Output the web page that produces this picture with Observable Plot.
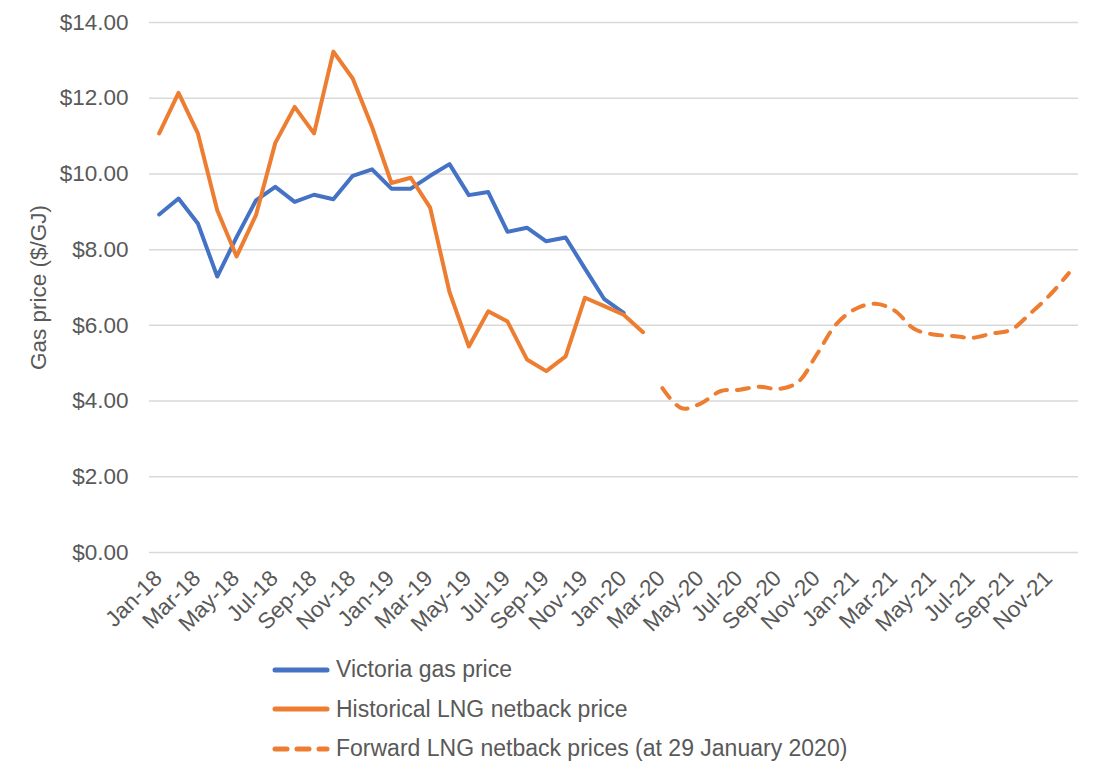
<!DOCTYPE html>
<html>
<head>
<meta charset="utf-8">
<script src="https://cdn.jsdelivr.net/npm/d3@7"></script>
<script src="https://cdn.jsdelivr.net/npm/@observablehq/plot@0.6"></script>
<style>
  body { margin: 0; background: #fff; font-family: "Liberation Sans", Arial, sans-serif; }
  #wrap { position: relative; width: 1107px; height: 775px; overflow: hidden; }
  #legend { position: absolute; left: 271px; top: 650px; color: #595959; font-size: 23px; }
  #legend .row { display: flex; align-items: center; height: 39.5px; }
  #legend svg { margin-right: 5px; }
</style>
</head>
<body>
<div id="wrap">
  <div id="chart"></div>
  <div id="legend"></div>
</div>
<script>
// Monthly category labels, Jan-18 to Dec-21
const months = [
  "Jan-18","Feb-18","Mar-18","Apr-18","May-18","Jun-18","Jul-18","Aug-18","Sep-18","Oct-18","Nov-18","Dec-18",
  "Jan-19","Feb-19","Mar-19","Apr-19","May-19","Jun-19","Jul-19","Aug-19","Sep-19","Oct-19","Nov-19","Dec-19",
  "Jan-20","Feb-20","Mar-20","Apr-20","May-20","Jun-20","Jul-20","Aug-20","Sep-20","Oct-20","Nov-20","Dec-20",
  "Jan-21","Feb-21","Mar-21","Apr-21","May-21","Jun-21","Jul-21","Aug-21","Sep-21","Oct-21","Nov-21","Dec-21"
];

// Victoria gas price, $/GJ, Jan-18 .. Jan-20
const victoriaPrice = [
  8.93, 9.35, 8.69, 7.29, 8.33, 9.30, 9.66, 9.26, 9.45, 9.33, 9.95, 10.12,
  9.61, 9.61, 9.95, 10.26, 9.44, 9.52, 8.47, 8.58, 8.22, 8.32, 7.50, 6.69,
  6.33
];

// Historical LNG netback price, $/GJ, Jan-18 .. Feb-20
const lngHistorical = [
  11.07, 12.14, 11.07, 9.04, 7.82, 8.91, 10.82, 11.77, 11.07, 13.23, 12.52, 11.24,
  9.76, 9.90, 9.11, 6.88, 5.44, 6.37, 6.10, 5.10, 4.79, 5.18, 6.73, 6.51,
  6.28, 5.82
];

// Forward LNG netback prices at 29 January 2020, $/GJ, Mar-20 .. Dec-21
const lngForward = [
  4.34, 3.81, 3.94, 4.26, 4.30, 4.38, 4.32, 4.50, 5.25, 6.04,
  6.44, 6.57, 6.39, 5.91, 5.76, 5.72, 5.67, 5.78, 5.88, 6.31, 6.79, 7.38
];

const yTicks = [0, 2, 4, 6, 8, 10, 12, 14];
const seriesNames = [
  "Victoria gas price",
  "Historical LNG netback price",
  "Forward LNG netback prices (at 29 January 2020)"
];

const blue = "#4472C4";
const orange = "#ED7D31";
const textColor = "#595959";

const victoriaRows = victoriaPrice.map((v, i) => ({month: months[i], value: v}));
const historicalRows = lngHistorical.map((v, i) => ({month: months[i], value: v}));
const forwardStart = months.indexOf("Mar-20");
const forwardRows = lngForward.map((v, i) => ({month: months[forwardStart + i], value: v}));

const labelledMonths = months.filter((m, i) => i % 2 === 0);

const chart = Plot.plot({
  width: 1107,
  height: 650,
  marginLeft: 149,
  marginRight: 29,
  marginTop: 22,
  marginBottom: 98,
  style: {fontFamily: "'Liberation Sans', Arial, sans-serif", color: textColor, background: "#fff"},
  x: {type: "point", domain: months, padding: 0.5, round: false},
  y: {domain: [0, 14]},
  marks: [
    Plot.gridY(yTicks, {stroke: "#d9d9d9", strokeOpacity: 1, strokeWidth: 1.5}),
    Plot.axisY(yTicks, {
      tickSize: 0, tickPadding: 21, fontSize: 22.5,
      tickFormat: d => "$" + d.toFixed(2),
      label: "Gas price ($/GJ)", labelAnchor: "center", labelArrow: "none", labelOffset: 119
    }),
    Plot.axisX(labelledMonths, {
      tickSize: 0, tickPadding: 0, tickRotate: -45, fontSize: 22.5, label: null, dx: -1, dy: 22
    }),
    Plot.line(victoriaRows, {x: "month", y: "value", stroke: blue, strokeWidth: 4, strokeLinejoin: "round", strokeLinecap: "round"}),
    Plot.line(historicalRows, {x: "month", y: "value", stroke: orange, strokeWidth: 4, strokeLinejoin: "round", strokeLinecap: "round"}),
    Plot.line(forwardRows, {x: "month", y: "value", stroke: orange, strokeWidth: 4, strokeDasharray: "12,10", strokeLinecap: "round", curve: "catmull-rom"})
  ]
});
document.getElementById("chart").appendChild(chart);

// Legend below the chart
const legendStyles = [
  {color: blue, dash: null},
  {color: orange, dash: null},
  {color: orange, dash: "12,10"}
];
const legend = d3.select("#legend");
seriesNames.forEach((name, i) => {
  const row = legend.append("div").attr("class", "row");
  const sw = row.append("svg").attr("width", 60).attr("height", 10);
  sw.append("line")
    .attr("x1", 4).attr("x2", 56).attr("y1", 5).attr("y2", 5)
    .attr("stroke", legendStyles[i].color).attr("stroke-width", 5)
    .attr("stroke-linecap", "round")
    .attr("stroke-dasharray", legendStyles[i].dash);
  row.append("span").text(name);
});
</script>
</body>
</html>
